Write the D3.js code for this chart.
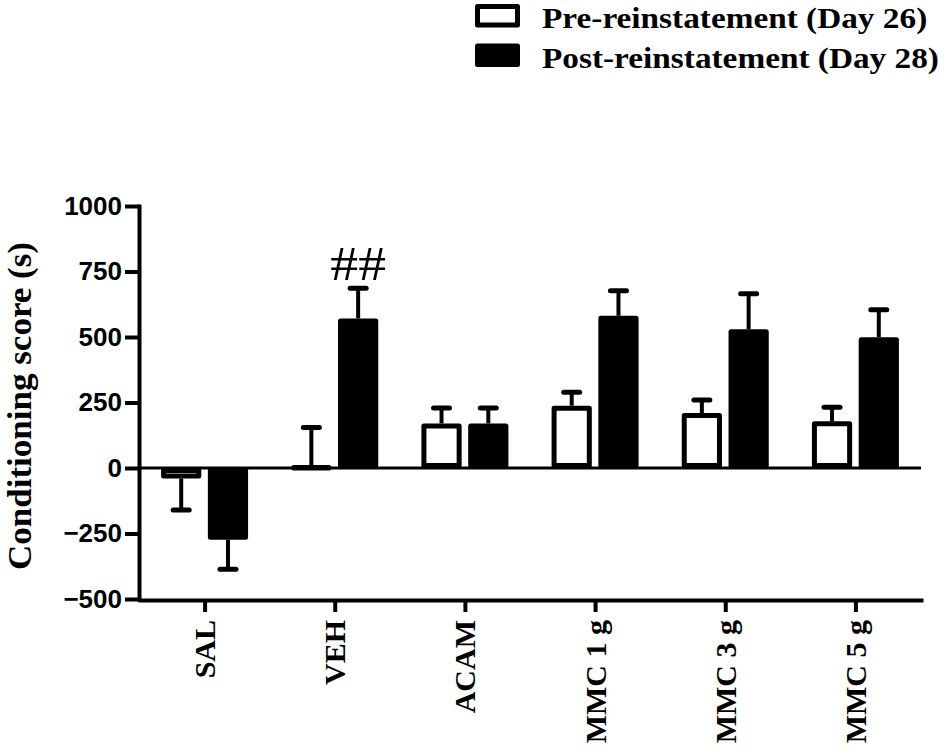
<!DOCTYPE html>
<html lang="en">
<head>
  <meta charset="UTF-8" />
  <title>Conditioning score</title>
  <script src="https://d3js.org/d3.v7.min.js"></script>
  <style>
    body { margin: 0; background: #fff; }
    svg { display: block; }
    .serif { font-family: 'Liberation Serif', 'Times New Roman', serif; font-weight: bold; }
    .sans { font-family: 'Liberation Sans', Arial, sans-serif; font-weight: bold; }
  </style>
</head>
<body>
  <svg id="chart" width="950" height="753"></svg>

  <script>
    // Data
    const categories = ["SAL", "VEH", "ACAM", "MMC 1 g", "MMC 3 g", "MMC 5 g"];
    const seriesKeys = ["pre", "post"];
    const seriesNames = ["Pre-reinstatement (Day 26)", "Post-reinstatement (Day 28)"];
    const preMean = [-40, 5, 170, 238, 210, 178];
    const preSem = [120, 150, 59, 51, 50, 54];
    const postMean = [-274, 571, 170, 581, 530, 499];
    const postSem = [112, 115, 59, 96, 135, 105];
    const yTicks = [-500, -250, 0, 250, 500, 750, 1000];
    const markLabel = "##"; // above VEH post bar

    const svg = d3.select("#chart");

    // Scales
    const x = d3.scaleBand().domain(categories).range([140, 921]).padding(0);
    const xs = d3.scaleBand().domain(seriesKeys).range([-44, 43]).paddingInner(0.14);
    const y = d3.scaleLinear().domain([-500, 1000]).range([599, 206]);

    const rows = [];
    categories.forEach((c, i) => {
      rows.push({ cat: c, key: "pre", mean: preMean[i], sem: preSem[i] });
      rows.push({ cat: c, key: "post", mean: postMean[i], sem: postSem[i] });
    });

    // Zero line
    svg.append("line")
      .attr("x1", x.range()[0]).attr("x2", x.range()[1])
      .attr("y1", y(0)).attr("y2", y(0))
      .attr("stroke", "#000").attr("stroke-width", 3);

    // Bars (outer edge of the stroke sits on the value)
    const sw = 5;
    svg.selectAll(".bar")
      .data(rows)
      .enter()
      .append("rect")
      .attr("class", "bar")
      .attr("x", d => x(d.cat) + x.bandwidth() / 2 + xs(d.key) + sw / 2)
      .attr("width", xs.bandwidth() - sw)
      .attr("height", d => Math.max(0.5, Math.abs(y(d.mean) - y(0)) - sw))
      .attr("y", d => d.mean >= 0 ? Math.min(y(d.mean) + sw / 2, y(0) - 0.5) : y(0) + sw / 2)
      .attr("fill", d => d.key === "pre" ? "#fff" : "#000")
      .attr("stroke", "#000")
      .attr("stroke-width", sw)
      .attr("stroke-linejoin", "round");

    // Error bars (one-sided, away from zero)
    const cx = d => x(d.cat) + x.bandwidth() / 2 + xs(d.key) + xs.bandwidth() / 2;
    const tip = d => y(d.mean >= 0 ? d.mean + d.sem : d.mean - d.sem);

    svg.selectAll(".err")
      .data(rows)
      .enter()
      .append("line")
      .attr("class", "err")
      .attr("x1", cx).attr("x2", cx)
      .attr("y1", d => y(d.mean)).attr("y2", tip)
      .attr("stroke", "#000").attr("stroke-width", 4);

    svg.selectAll(".cap")
      .data(rows)
      .enter()
      .append("line")
      .attr("class", "cap")
      .attr("x1", d => cx(d) - 8).attr("x2", d => cx(d) + 8)
      .attr("y1", tip).attr("y2", tip)
      .attr("stroke", "#000").attr("stroke-width", 5)
      .attr("stroke-linecap", "round");

    // Y axis
    const yAxis = svg.append("g")
      .attr("transform", `translate(${x.range()[0] - 1},0)`)
      .call(d3.axisLeft(y).tickValues(yTicks).tickFormat(d3.format("d"))
        .tickSize(14).tickSizeOuter(0).tickPadding(3));
    yAxis.select(".domain").attr("stroke-width", 4).attr("stroke-linecap", "square");
    yAxis.selectAll(".tick line").attr("stroke-width", 4);
    yAxis.selectAll(".tick text")
      .attr("class", "sans")
      .attr("font-size", 26)
      .attr("fill", "#000");

    // X axis
    const xAxis = svg.append("g")
      .attr("transform", `translate(0,${y(-500) + 1})`)
      .call(d3.axisBottom(x).tickSize(12).tickSizeOuter(0).tickFormat(""));
    xAxis.select(".domain").attr("stroke-width", 4).attr("stroke-linecap", "square");
    xAxis.selectAll(".tick line").attr("stroke-width", 4);

    svg.selectAll(".xlabel")
      .data(categories)
      .enter()
      .append("text")
      .attr("class", "xlabel serif")
      .attr("font-size", 30)
      .attr("text-anchor", "end")
      .attr("transform", d => `translate(${x(d) + x.bandwidth() / 2 + 10},620) rotate(-90)`)
      .text(d => d);

    // Y axis title
    svg.append("text")
      .attr("class", "serif")
      .attr("font-size", 34)
      .attr("text-anchor", "middle")
      .attr("transform", "translate(31,406) rotate(-90) scale(1.03,1)")
      .text("Conditioning score (s)");

    // Significance mark
    const veh = rows.find(d => d.cat === "VEH" && d.key === "post");
    svg.append("text")
      .attr("font-family", "'Liberation Serif', 'Times New Roman', serif")
      .attr("font-size", 48)
      .attr("text-anchor", "middle")
      .attr("transform", `translate(${cx(veh)},${tip(veh) - 8}) scale(1.16,1)`)
      .text(markLabel);

    // Legend
    const legend = svg.append("g").attr("transform", "translate(475,0)");
    seriesKeys.forEach((k, i) => {
      const top = 4 + i * 39.5;
      legend.append("rect")
        .attr("x", sw / 2).attr("y", top + sw / 2)
        .attr("width", 45 - sw).attr("height", 23.5 - sw)
        .attr("fill", k === "pre" ? "#fff" : "#000")
        .attr("stroke", "#000").attr("stroke-width", sw)
        .attr("stroke-linejoin", "round");
      legend.append("text")
        .attr("class", "serif")
        .attr("font-size", 30)
        .attr("transform", `translate(67,${top + 24}) scale(1.11,1)`)
        .text(seriesNames[i]);
    });
  </script>
</body>
</html>
